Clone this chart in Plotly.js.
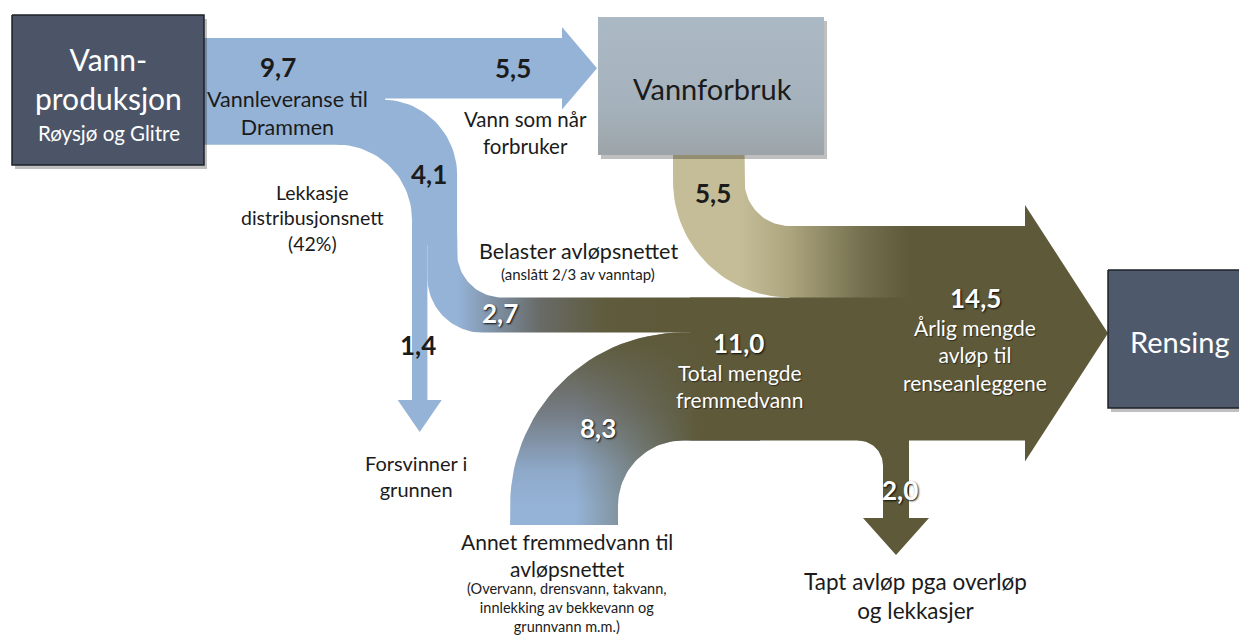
<!DOCTYPE html>
<html><head><meta charset="utf-8">
<script src="https://cdn.plot.ly/plotly-3.0.1.min.js"></script>
<style>html,body{margin:0;padding:0;background:#fff;overflow:hidden}#chart{width:1239px;height:638px}</style>
</head><body><div id="chart"></div>
<script>
// ---------------- DATA ----------------
const flowKeys   = ['levert', 'forbruker', 'lekkasje', 'grunnen', 'belaster', 'forbruk', 'annet', 'fremmed', 'renset', 'tapt'];
const flowValues = [9.7, 5.5, 4.1, 1.4, 2.7, 5.5, 8.3, 11.0, 14.5, 2.0];
const flowTexts  = ['Vannleveranse til<br>Drammen', 'Vann som når<br>forbruker', 'Lekkasje<br>distribusjonsnett<br>(42%)',
                    'Forsvinner i<br>grunnen', 'Belaster avløpsnettet', '', 'Annet fremmedvann til<br>avløpsnettet',
                    'Total mengde<br>fremmedvann', 'Årlig mengde<br>avløp til<br>renseanleggene', 'Tapt avløp pga overløp<br>og lekkasjer'];
const noteKeys   = ['belaster', 'annet'];
const noteTexts  = ['(anslått 2/3 av vanntap)', '(Overvann, drensvann, takvann,<br>innlekking av bekkevann og<br>grunnvann m.m.)'];
const nodeNames  = ['Vann-<br>produksjon', 'Vannforbruk', 'Rensing'];
const nodeSubs   = ['Røysjø og Glitre', '', ''];

// ---------------- LAYOUT / STYLE ----------------
const val = k => flowValues[flowKeys.indexOf(k)];
const fmt = v => v.toFixed(1).replace('.', ',');
const W = 11;    // px per unit, water network
const S = 13;    // px per unit, sewer network
const FONT = 'Lato, "Open Sans", sans-serif';
const BLUE = '#95b3d7', TAN = '#c4bd97', OLIVE = '#5d5939';
const DARK = '#1b1b1b';

const P = {
  box1: [12, 15, 204, 165], box2: [598, 17, 824, 155], box3: [1108, 270, 1250, 408],
  bandTop: 38, bandX0: 200, arrow1Base: 562, arrow1Tip: 597, arrow1Top: 27,
  xL41: 412, r41o: 75, r41i: 75, yCut: 235,
  arrow14Base: 400, arrow14Tip: 432, arrow14Half: 22,
  r27o: 45, r27i: 55, x27End: 740,
  mainTop: 226, xTan: 673, rTan: 45, tanEnd: 920,
  x83R: 618, r83i: 65, y83Bot: 525, x83End: 760,
  main0: 690, mainBase: 1025, mainTip: 1108, mainExtra: 21,
  c20x: 858, r20: 25, arrow20Base: 518, arrow20Tip: 555, arrow20Half: 33
};

function arc(cx, cy, r, a0, a1, n) {
  n = n || 30; const pts = [];
  for (let i = 0; i <= n; i++) {
    const a = (a0 + (a1 - a0) * i / n) * Math.PI / 180;
    pts.push([cx + r * Math.cos(a), cy + r * Math.sin(a)]);
  }
  return pts;
}
function poly(pts, fill, extra) {
  const t = { type: 'scatter', mode: 'lines', x: pts.map(p => p[0]).concat([pts[0][0]]),
    y: pts.map(p => p[1]).concat([pts[0][1]]), fill: 'toself', fillcolor: fill,
    line: { width: 0, color: 'rgba(0,0,0,0)' }, hoverinfo: 'skip', showlegend: false };
  return Object.assign(t, extra || {});
}
function grad(type, start, stop, cs) { return { fillgradient: { type: type, start: start, stop: stop, colorscale: cs } }; }

const traces = [];
// --- water network (blue) ---
const y97b = P.bandTop + val('levert') * W;
const y55b = P.bandTop + val('forbruker') * W;
const y41t = y97b - val('lekkasje') * W;
const xR41 = P.xL41 + val('lekkasje') * W;
const c41o = [xR41 - P.r41o, y41t + P.r41o];
const c41i = [P.xL41 - P.r41i, y97b + P.r41i];
traces.push(poly([[P.bandX0, P.bandTop], [c41o[0] + 3, P.bandTop], [c41o[0] + 3, y97b], [P.bandX0, y97b]], BLUE));
const c55 = (P.bandTop + y55b) / 2, h55 = c55 - P.arrow1Top;
traces.push(poly([[P.bandX0, P.bandTop], [P.arrow1Base, P.bandTop], [P.arrow1Base, c55 - h55], [P.arrow1Tip, c55],
  [P.arrow1Base, c55 + h55], [P.arrow1Base, y55b], [P.bandX0, y55b]], BLUE));
traces.push(poly([].concat(arc(c41o[0], c41o[1], P.r41o, -90, 0), [[xR41, P.yCut + 10], [P.xL41, P.yCut + 10]],
  arc(c41i[0], c41i[1], P.r41i, 0, -90)), BLUE));
const xR14 = P.xL41 + val('grunnen') * W, cx14 = (P.xL41 + xR14) / 2;
traces.push(poly([[P.xL41, P.yCut], [xR14, P.yCut], [xR14, P.arrow14Base], [cx14 + P.arrow14Half, P.arrow14Base],
  [cx14, P.arrow14Tip], [cx14 - P.arrow14Half, P.arrow14Base], [P.xL41, P.arrow14Base]], BLUE));

// --- sewer network ---
const yTanB = P.mainTop + val('forbruk') * S;
const y27B = yTanB + val('belaster') * S;
const yMainB = y27B + val('annet') * S;
const xTanR = P.xTan + val('forbruk') * S;
const cTan = [xTanR + P.rTan, P.mainTop - P.rTan];
const rTanO = P.rTan + val('forbruk') * S;
const cMain = (P.mainTop + yMainB) / 2, hMain = cMain - P.mainTop + P.mainExtra;
traces.push(poly([[cTan[0], P.mainTop], [P.mainBase, P.mainTop], [P.mainBase, cMain - hMain], [P.mainTip, cMain],
  [P.mainBase, cMain + hMain], [P.mainBase, yMainB], [P.main0, yMainB], [P.main0, yTanB], [cTan[0], yTanB]], OLIVE));
// 2.0 branch
const x20L = P.c20x + P.r20, x20R = x20L + val('tapt') * S, cx20 = (x20L + x20R) / 2;
traces.push(poly([[P.c20x, yMainB - 5]].concat(arc(P.c20x, yMainB + P.r20, P.r20, -90, 0),
  [[x20L, P.arrow20Base], [cx20 - P.arrow20Half, P.arrow20Base], [cx20, P.arrow20Tip], [cx20 + P.arrow20Half, P.arrow20Base],
   [x20R, P.arrow20Base], [x20R, yMainB - 5]]), OLIVE));
// 8.3 band
const r83o = P.r83i + val('annet') * S;
const c83 = [P.x83R + P.r83i, yMainB + P.r83i];
const pts83 = [[c83[0] - r83o, P.y83Bot]].concat(arc(c83[0], c83[1], r83o, 180, 270),
  [[P.x83End, y27B], [P.x83End, yMainB]], arc(c83[0], c83[1], P.r83i, 270, 180), [[P.x83R, P.y83Bot]]);
traces.push(poly(pts83, BLUE, grad('vertical', 335, 505, [[0, OLIVE], [0.45, '#747b82'], [0.8, '#8ea9c9'], [1, BLUE]])));
traces.push(poly(pts83, 'rgba(0,0,0,0)', grad('horizontal', 575, 700, [[0, 'rgba(93,89,57,0)'], [1, 'rgba(93,89,57,1)']])));
// 2.7 band
const c27o = [xR41 + P.r27o, yTanB - P.r27o];
const c27i = [xR14 + P.r27i, y27B - P.r27i];
traces.push(poly([[xR41, P.yCut]].concat(arc(c27o[0], c27o[1], P.r27o, 180, 90), [[P.x27End, yTanB], [P.x27End, y27B]],
  arc(c27i[0], c27i[1], P.r27i, 90, 180), [[xR14, P.yCut]]), BLUE,
  grad('horizontal', 440, 660, [[0, BLUE], [0.08, BLUE], [0.25, '#7f90a3'], [0.45, '#686b68'], [0.75, '#5f5b3d'], [1, OLIVE]])));
// tan band from Vannforbruk
traces.push(poly([[xTanR, P.box2[3] - 5]].concat(arc(cTan[0], cTan[1], P.rTan, 180, 90), [[P.tanEnd, P.mainTop], [P.tanEnd, yTanB]],
  arc(cTan[0], cTan[1], rTanO, 90, 180), [[P.xTan, P.box2[3] - 5]]), TAN,
  grad('horizontal', 740, 910, [[0, TAN], [0.3, '#aba47d'], [0.7, '#767150'], [1, OLIVE]])));

// --- nodes ---
function rectPts(b, dx, dy) { return [[b[0] + dx, b[1] + dy], [b[2] + dx, b[1] + dy], [b[2] + dx, b[3] + dy], [b[0] + dx, b[3] + dy]]; }
[P.box1, P.box2, P.box3].forEach(b => traces.push(poly(rectPts(b, 3, 4), 'rgba(0,0,0,0.25)')));
traces.push(poly(rectPts(P.box1, 0, 0), '#4b5567', { line: { width: 1.5, color: '#1e2229' } }));
traces.push(poly(rectPts(P.box2, 0, 0), '#a6b3bd', grad('vertical', P.box2[1], P.box2[3], [[0, '#abb9c5'], [0.65, '#a5b2bc'], [1, '#9ca4a8']])));
traces.push(poly(rectPts(P.box3, 0, 0), '#4e5a6c', { line: { width: 1.5, color: '#1e2229' } }));

// --- text ---
const ann = [];
function txt(x, y, text, size, color, opts) {
  opts = opts || {};
  ann.push({ x: x, y: y, xref: 'x', yref: 'y', text: text, showarrow: false, xanchor: 'center', yanchor: 'middle', align: 'center',
    font: Object.assign({ family: FONT, size: size, color: color }, opts.font || {}) });
}
const boldDark = { font: { weight: 700 } };
const boldWhite = { font: { weight: 700, shadow: '1px 1px 2px rgba(0,0,0,0.9)' } };
const white = { font: { shadow: '1px 1px 1px rgba(0,0,0,0.5)' } };
const T = k => flowTexts[flowKeys.indexOf(k)];
const N = k => noteTexts[noteKeys.indexOf(k)];

txt(108, 78, nodeNames[0], 30, '#ffffff');
txt(109, 133, nodeSubs[0], 20.5, '#ffffff');
txt(712, 88, nodeNames[1], 29, DARK);
txt(1180, 341, nodeNames[2], 29, '#ffffff');

txt(278, 67, fmt(val('levert')), 26, DARK, boldDark);
txt(287, 113, T('levert'), 21.5, DARK);
txt(513, 68, fmt(val('forbruker')), 26, DARK, boldDark);
txt(525, 132, T('forbruker'), 20.5, DARK);
txt(429, 174, fmt(val('lekkasje')), 26, DARK, boldDark);
txt(312, 218, T('lekkasje'), 19.5, DARK);
txt(578, 251, T('belaster'), 21.5, DARK);
txt(578, 274, N('belaster'), 15, DARK);
txt(500, 313, fmt(val('belaster')), 26, '#ffffff', boldWhite);
txt(418, 345, fmt(val('grunnen')), 26, DARK, boldDark);
txt(416, 476, T('grunnen'), 20, DARK);
txt(713, 193, fmt(val('forbruk')), 26, DARK, boldDark);
txt(738, 343, fmt(val('fremmed')), 26, '#ffffff', boldWhite);
txt(740, 386, T('fremmed'), 21, '#ffffff', white);
txt(975, 298, fmt(val('renset')), 26, '#ffffff', boldWhite);
txt(975, 355, T('renset'), 21, '#ffffff', white);
txt(598, 428, fmt(val('annet')), 26, '#ffffff', boldWhite);
txt(900, 490, fmt(val('tapt')), 26, '#ffffff', boldWhite);
txt(567, 555, T('annet'), 21, DARK);
txt(567, 607, N('annet'), 14.5, DARK);
txt(915, 596, T('tapt'), 22.5, DARK);

const layout = {
  width: 1239, height: 638, margin: { l: 0, r: 0, t: 0, b: 0 }, showlegend: false,
  paper_bgcolor: '#ffffff', plot_bgcolor: '#ffffff',
  xaxis: { range: [0, 1239], visible: false, fixedrange: true },
  yaxis: { range: [638, 0], visible: false, fixedrange: true },
  annotations: ann
};
Plotly.newPlot('chart', traces, layout, { staticPlot: true, displayModeBar: false });
</script></body></html>
